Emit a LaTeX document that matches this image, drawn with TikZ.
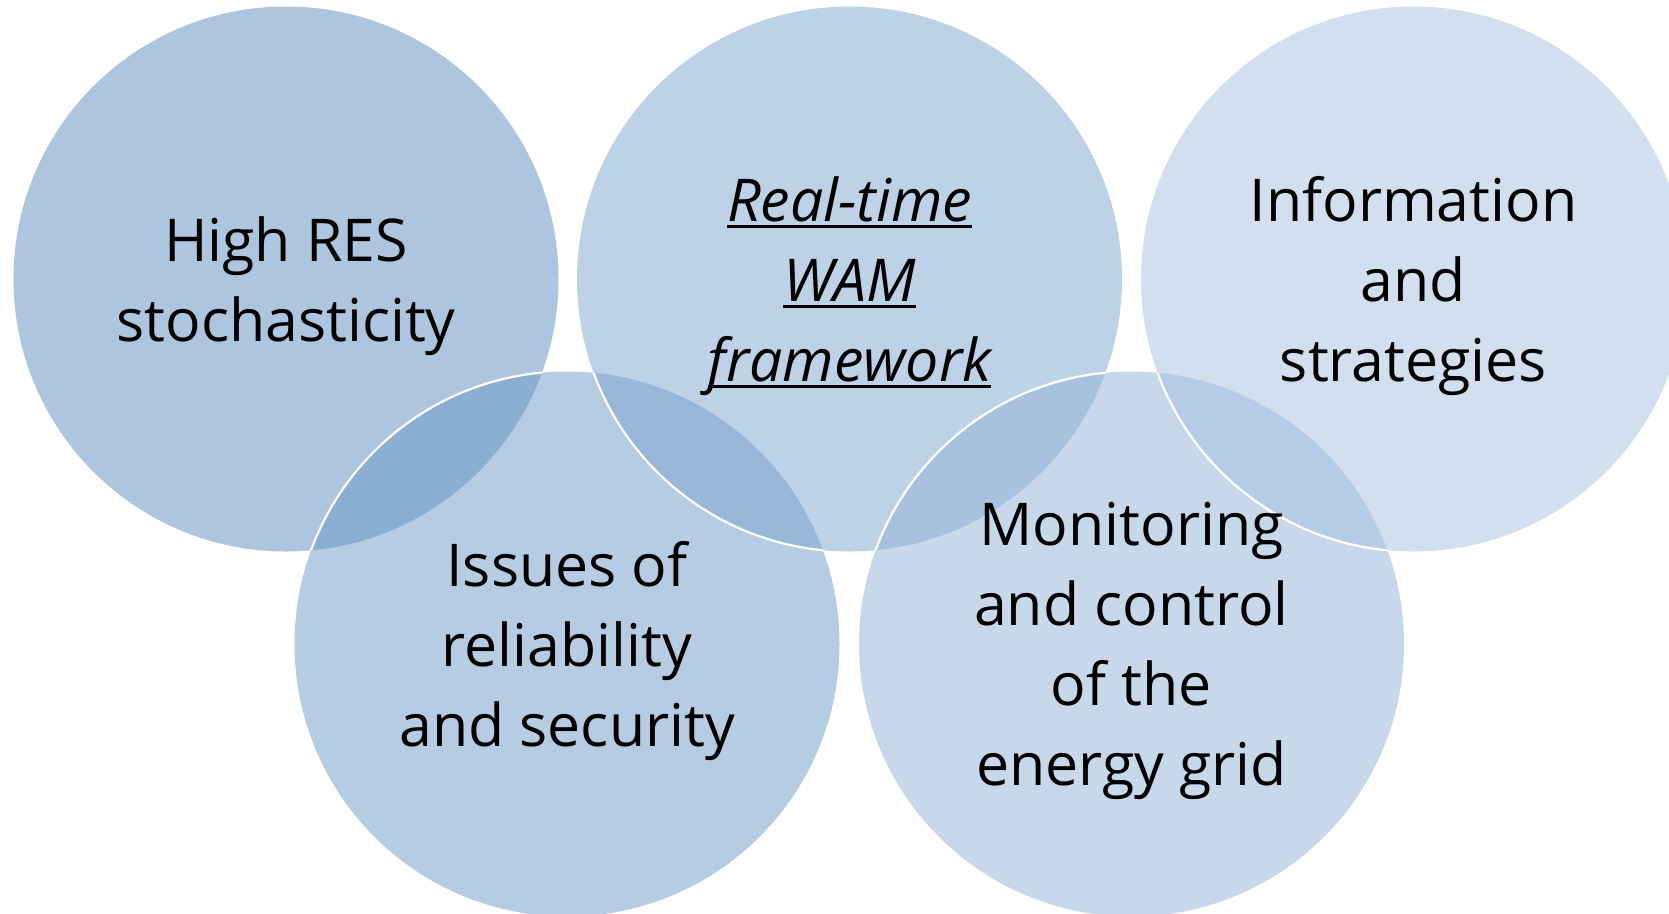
\documentclass[tikz,border=0pt]{standalone}
\usepackage{fontspec}
\setmainfont{Open Sans}
\definecolor{cA}{RGB}{91,139,191}
\definecolor{cB}{RGB}{125,165,207}
\definecolor{cC}{RGB}{165,191,223}
\definecolor{cD}{RGB}{107,153,199}
\definecolor{cE}{RGB}{145,177,215}
\newcommand\myul[1]{\setbox0\hbox{#1}\rlap{\rule[-7pt]{\wd0}{3pt}}\box0}
\begin{document}
\begin{tikzpicture}[x=1pt,y=-1pt]
\tikzset{
  ring/.style={circle, minimum size=545pt, inner sep=0pt, draw=none, fill opacity=0.5},
  rim/.style={draw=white, line width=2.2pt},
  txt/.style={font=\fontsize{59}{80}\selectfont, align=center, inner sep=0pt, text=black, yshift=-7pt}
}
\useasboundingbox (0,0) rectangle (1669,913);
\clip (0,0) rectangle (1669,913);
\node[ring, fill=cA] (c1) at (286,279) {};
\node[ring, fill=cD] (c4) at (567,644) {};
\begin{scope}
  \clip (c1.center) circle (272.5);
  \draw[rim] (c4.center) circle (272.5);
\end{scope}
\node[ring, fill=cB] (c2) at (849.5,279) {};
\begin{scope}
  \clip (c4.center) circle (272.5);
  \draw[rim] (c2.center) circle (272.5);
\end{scope}
\node[ring, fill=cE] (c5) at (1131.5,644) {};
\begin{scope}
  \clip (c2.center) circle (272.5);
  \draw[rim] (c5.center) circle (272.5);
\end{scope}
\node[ring, fill=cC] (c3) at (1413.5,279) {};
\begin{scope}
  \clip (c5.center) circle (272.5);
  \draw[rim] (c3.center) circle (272.5);
\end{scope}
\node[txt] (t1) at (c1.center) {High RES\\stochasticity};
\node[txt, font=\fontsize{59}{80}\selectfont\itshape] (t2) at (c2.center) {\myul{Real-time}\\\myul{WAM}\\\myul{framework}};
\node[txt] (t3) at (c3.center) {Information\\and\\strategies};
\node[txt] (t4) at (c4.center) {Issues of\\reliability\\and security};
\node[txt] (t5) at (c5.center) {Monitoring\\and control\\of the\\energy grid};
\end{tikzpicture}
\end{document}
